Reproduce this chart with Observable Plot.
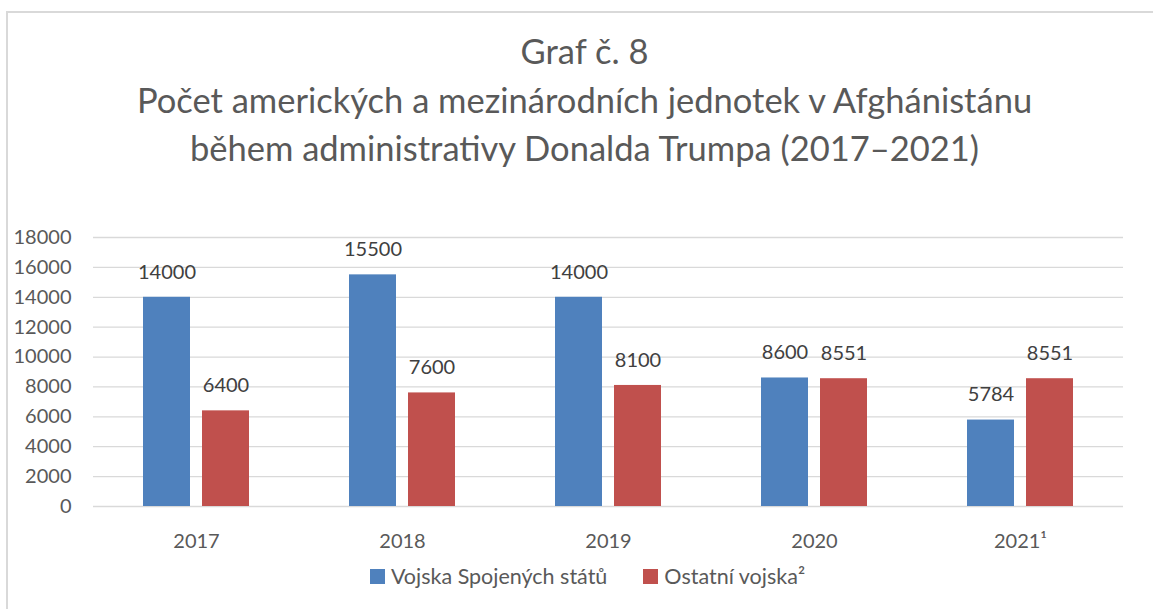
<!DOCTYPE html>
<html>
<head>
<meta charset="utf-8">
<script src="https://cdn.jsdelivr.net/npm/d3@7"></script>
<script src="https://cdn.jsdelivr.net/npm/@observablehq/plot@0.6"></script>
<style>
  html, body { margin: 0; padding: 0; background: #fff; overflow: hidden; width: 1153px; height: 609px; }
  body { position: relative; font-family: Lato, "Open Sans", sans-serif; }
  #frame { position: absolute; left: 6px; top: 11px; width: 1200px; height: 700px; border: 2px solid #d9d9d9; box-sizing: border-box; }
  #title { position: absolute; left: 8px; top: 27px; width: 1153px; text-align: center; font-size: 34.5px; line-height: 48.5px; color: #595959; }
  #chart { position: absolute; left: 0; top: 190px; }
  #legend { position: absolute; left: 0; top: 562px; width: 1175px; display: flex; justify-content: center; font-size: 21.5px; line-height: 28px; color: #595959; }
  #legend .item { display: inline-flex; align-items: center; margin: 0 18px; }
  #legend .sw { display: inline-block; width: 15px; height: 15px; margin-right: 6px; }
</style>
</head>
<body>
<div id="frame"></div>
<div id="title"></div>
<div id="chart"></div>
<div id="legend"></div>
<script>
const titleLines = ["Graf č. 8", "Počet amerických a mezinárodních jednotek v Afghánistánu", "během administrativy Donalda Trumpa (2017–2021)"];
const years = ["2017", "2018", "2019", "2020", "2021¹"];
const seriesNames = ["Vojska Spojených států", "Ostatní vojska²"];
const usTroops = [14000, 15500, 14000, 8600, 5784];
const otherTroops = [6400, 7600, 8100, 8551, 8551];
const seriesColors = ["#4F81BD", "#C0504D"];
const yTicks = [0, 2000, 4000, 6000, 8000, 10000, 12000, 14000, 16000, 18000];

const data = [];
years.forEach((y, i) => {
  data.push({year: y, series: seriesNames[0], value: usTroops[i]});
  data.push({year: y, series: seriesNames[1], value: otherTroops[i]});
});

document.getElementById("title").innerHTML = titleLines.map(t => `<div>${t}</div>`).join("");

const plot = Plot.plot({
  width: 1153,
  height: 419,
  marginLeft: 93,
  marginRight: 30,
  marginTop: 47,
  marginBottom: 103,
  style: {fontFamily: "Lato, 'Open Sans', sans-serif", background: "transparent"},
  fx: {domain: years, padding: 0, label: null},
  x: {domain: seriesNames, paddingInner: 0.2034, paddingOuter: 0.847, axis: null},
  y: {domain: [0, 18000], label: null},
  color: {domain: seriesNames, range: seriesColors},
  marks: [
    Plot.ruleY(yTicks, {stroke: "#d9d9d9", strokeWidth: 1.3}),
    Plot.axisY({ticks: yTicks, tickSize: 0, tickPadding: 22, fontSize: 20, fill: "#595959", label: null, tickFormat: d => String(d)}),
    Plot.axisFx({anchor: "bottom", tickSize: 0, tickPadding: 27, fontSize: 20, fill: "#595959", label: null}),
    Plot.barY(data, {fx: "year", x: "series", y: "value", fill: "series"}),
    Plot.text(data, {fx: "year", x: "series", y: "value", text: d => String(d.value), dy: -25, fontSize: 20, fill: "#404040"})
  ]
});
document.getElementById("chart").appendChild(plot);

document.getElementById("legend").innerHTML = seriesNames.map((s, i) =>
  `<span class="item"><span class="sw" style="background:${seriesColors[i]}"></span>${s}</span>`).join("");
</script>
</body>
</html>
